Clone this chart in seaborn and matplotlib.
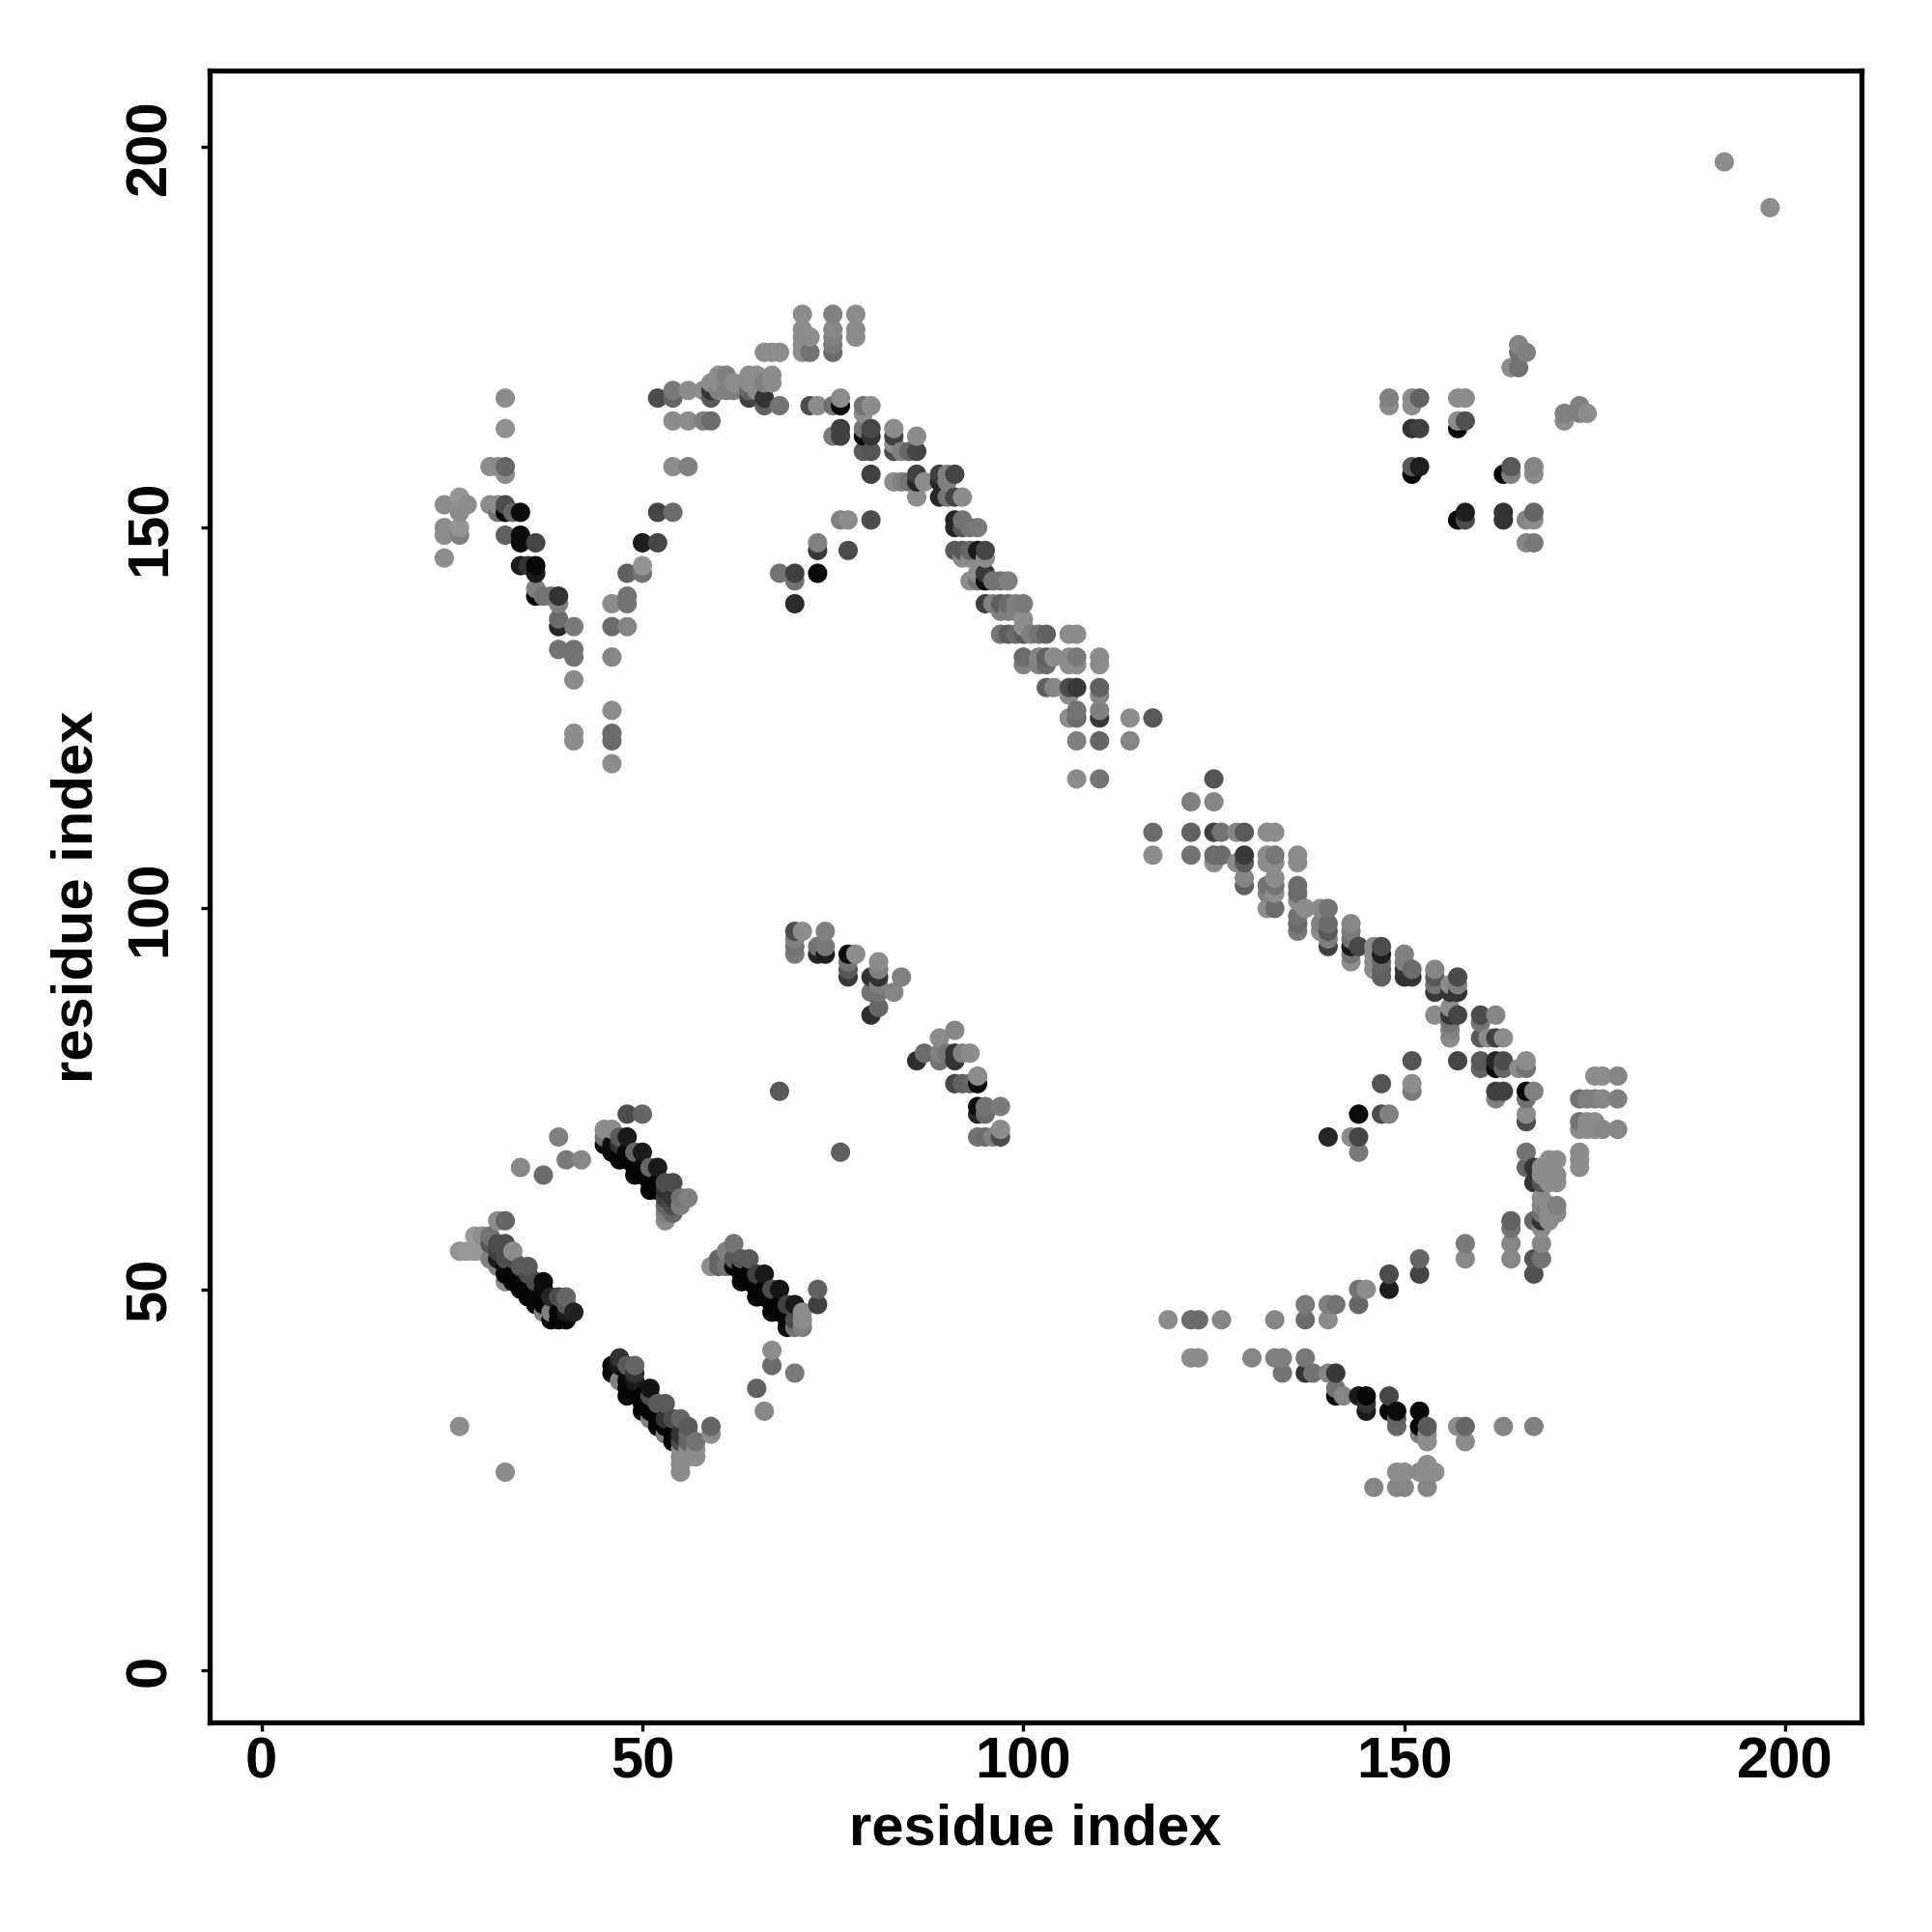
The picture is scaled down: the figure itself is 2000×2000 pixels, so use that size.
import pandas as pd
import matplotlib
matplotlib.use("Agg")
import matplotlib.pyplot as plt
import seaborn as sns

# contacts as (residue i, residue j, shade), shade 0 = black
band_a = [(26,55,.58),(27,55,.6),(28,55,.6),(29,55,.6),(28,57,.6),(29,57,.55),(30,57,.45),(31,59,.55),(32,59,.4),
          (30,56,.35),(31,56,.3),(32,56,.3),(33,55,.55),(31,55,.25),(30,54,.5),(31,54,.1),(32,54,.3),(33,54,.3),
          (31,53,.5),(32,53,.05),(34,53,.35),(35,53,.35),(32,52,.02),(33,52,.02),(35,52,.3),(32,51,.55),(33,51,.02),
          (34,51,.02),(36,51,.3),(37,51,.05),(34,50,.02),(35,50,.02),(37,50,.05),(35,49,.02),(36,49,.02),(38,49,.15),
          (39,49,.3),(40,49,.4),(36,48,.03),(37,48,.02),(40,48,.35),(37,47,.5),(38,47,.5),(39,47,.02),(40,47,.1),
          (41,47,.13),(38,46,.02),(39,46,.02),(40,46,.02)]
band_b = [(45,71,.55),(46,71,.55),(45,70,.45),(45,69,.05),(46,69,.05),(47,70,.35),(48,70,.1),(47,69,.2),(46,68,.05),
          (47,68,.02),(48,68,.02),(47,67,.02),(48,67,.02),(49,68,.4),(50,68,.1),(49,66,.02),(49,65,.02),(50,66,.02),
          (50,65,.02),(51,66,.4),(52,66,.1),(51,64,.02),(51,63,.02),(52,64,.02),(52,63,.02),(53,64,.3),(54,64,.3),
          (53,63,.2),(53,62,.25),(53,61,.4),(53,60,.5),(53,59,.55),(54,62,.2),(54,61,.3),(54,60,.4),(55,62,.45),
          (55,61,.5),(56,62,.5)]
band_c = [(59,53,.55),(60,54,.4),(60,53,.4),(61,55,.5),(61,53,.45),(62,56,.45),(62,54,.35),(62,53,.02),(63,54,.35),
          (63,53,.02),(63,52,.02),(64,54,.35),(63,51,.02),(64,52,.02),(64,51,.02),(65,52,.25),(65,50,.02),(65,49,.02),
          (66,52,.1),(66,50,.02),(66,49,.02),(67,50,.3),(67,48,.02),(67,47,.02),(68,50,.08),(68,48,.02),(68,47,.02),
          (69,48,.25),(69,45,.05),(69,46,.02),(70,48,.1),(70,46,.3),(70,45,.45),(71,46,.55),(71,45,.5),(71,47,.55)]
band_d = [(46,40,.05),(46,39,.05),(47,41,.2),(47,40,.1),(47,38,.5),(48,40,.35),(48,39,.05),(48,38,.03),(48,37,.02),
          (48,36,.03),(49,40,.4),(49,39,.2),(49,38,.1),(49,37,.02),(50,36,.02),(50,35,.02),(50,34,.02),(51,37,.08),
          (51,36,.3),(51,34,.02),(51,33,.5),(52,35,.35),(52,33,.02),(52,32,.02),(53,35,.35),(53,33,.2),(53,32,.02),
          (53,31,.5),(54,33,.3),(54,31,.02),(54,30,.02),(55,33,.4),(55,31,.2),(55,30,.3),(55,29,.55),(55,28,.55),
          (55,27,.55),(55,26,.55),(56,32,.35),(56,31,.4),(56,30,.4),(56,29,.55),(56,28,.55),(57,30,.45),(57,29,.55),
          (57,28,.55),(59,32,.4),(59,31,.55)]
stray_low = [(26,32,.55),(32,26,.55),(34,66,.53),(37,65,.42),(39,70,.5),(40,67,.48),(42,67,.53),(48,73,.3),(50,73,.4),
             (76,68,.37),(68,76,.35),(73,50,.38),(73,48,.25),(67,42,.55),(67,40,.42),(70,39,.48),(65,37,.38),(66,34,.53)]
arm_left = [(32,167,.55),(32,163,.57),(30,158,.55),(31,158,.55),(32,158,.4),(32,157,.55),(24,153,.55),(26,154,.58),
            (27,153,.55),(26,152,.55),(24,150,.55),(24,149,.55),(26,150,.58),(26,149,.5),(24,146,.55),(30,153,.55),
            (31,153,.55),(32,153,.3),(31,152,.45),(32,152,.02),(33,152,.4),(34,152,.05),(32,149,.38),(34,149,.05),
            (34,148,.05),(36,148,.27),(34,145,.1),(35,145,.2),(36,145,.03),(36,144,.1),(36,142,.5),(36,141,.02),
            (37,141,.45),(38,141,.45),(39,141,.2),(39,140,.5),(39,138,.42),(39,137,.15),(41,137,.48),(39,134,.45),
            (41,134,.45),(41,133,.45),(41,130,.55),(41,123,.55),(41,122,.55)]
arm_rise = [(46,126,.55),(46,123,.42),(46,122,.42),(46,119,.55),(46,137,.42),(48,137,.52),(46,133,.52),(46,140,.55),
            (48,141,.45),(48,140,.45),(48,144,.38),(50,145,.58),(50,144,.45),(50,148,.12),(52,148,.28),(52,152,.27),
            (54,152,.42),(54,158,.55),(56,158,.5),(54,164,.55),(56,164,.55),(58,164,.5),(59,164,.42),(52,167,.3),
            (54,168,.48),(54,167,.4),(56,168,.55),(58,168,.55),(59,167,.35),(59,168,.2),(59,169,.55),(60,169,.55),
            (60,170,.55),(61,170,.5),(62,169,.55),(64,170,.55),(65,170,.55),(64,169,.55),(64,167,.25),(64,168,.4),
            (65,168,.55),(66,169,.5),(67,170,.55),(67,169,.55),(66,167,.2),(66,166,.38),(68,166,.45),(60,168,.5),
            (61,168,.5),(62,168,.5),(66,173,.55),(67,173,.55),(68,173,.55)]
crest = [(71,178,.55),(75,178,.5),(78,178,.55),(71,176,.55),(72,175,.55),(71,175,.55),(71,174,.55),(71,173,.55),
         (72,173,.45),(75,176,.53),(75,175,.5),(75,174,.48),(75,173,.42),(78,176,.55),(78,175,.55)]
diag_upper = [(72,166,.3),(73,166,.55),(75,166,.45),(76,167,.55),(76,166,.05),(79,166,.45),(80,166,.55),(79,165,.55),
              (76,163,.25),(76,162,.25),(75,162,.48),(79,163,.45),(80,163,.28),(79,162,.05),(80,162,.2),(79,160,.35),
              (80,160,.33),(80,157,.25),(83,163,.55),(83,162,.25),(83,160,.3),(83,161,.55),(84,160,.5),(85,160,.4),
              (86,160,.27),(86,162,.55),(83,156,.55),(84,156,.5),(85,156,.45),(86,157,.25),(86,156,.15),(87,156,.55),
              (86,154,.55),(89,157,.25),(89,156,.15),(90,157,.5),(91,157,.27),(90,156,.5),(89,154,.15),(90,154,.45),
              (91,154,.27),(92,154,.55),(91,151,.15),(92,151,.45),(91,150,.15),(92,150,.35),(93,150,.45),(94,150,.48),
              (91,147,.35),(92,147,.35),(93,147,.4),(94,147,.1),(95,147,.27),(92,146,.55),(93,146,.55),(95,146,.55),
              (95,144,.22),(94,144,.55),(93,143,.55),(94,143,.45),(95,143,.05),(96,143,.45),(97,143,.45),(98,143,.5),
              (95,140,.25),(96,140,.5),(97,140,.37),(98,140,.42),(99,140,.5),(100,140,.48),(97,139,.5),(98,139,.5),
              (99,139,.5),(100,138,.55),(100,137,.55),(97,136,.45),(98,136,.37),(99,136,.42),(100,136,.35),(101,136,.5),
              (102,136,.45),(103,136,.38),(106,136,.55),(107,136,.55),(100,133,.42),(100,132,.5),(102,133,.52),
              (103,133,.38),(104,133,.55),(102,132,.5),(103,132,.42),(106,133,.55),(107,133,.48),(106,132,.55),
              (107,132,.55),(110,133,.55),(110,132,.55),(103,129,.38),(104,129,.52),(106,129,.3),(107,129,.22),
              (106,128,.55),(110,129,.38),(110,128,.52),(107,126,.45),(107,125,.42),(106,125,.55),(110,126,.5),
              (110,125,.22),(114,125,.55),(117,125,.35),(107,122,.5),(110,122,.4),(114,122,.52),(107,117,.55),(110,117,.45)]
side_upper = [(68,144,.45),(70,144,.25),(70,143,.45),(73,144,.05),(73,148,.5),(73,147,.22),(77,147,.3),(76,151,.5),
              (77,151,.55),(80,151,.3),(70,140,.17)]
diag_lower = [(125,117,.33),(122,114,.5),(125,114,.52),(117,110,.42),(122,110,.38),(125,110,.25),(126,110,.45),
              (128,110,.52),(129,110,.35),(132,110,.55),(133,110,.55),(117,107,.55),(122,107,.45),(125,107,.42),
              (126,107,.42),(129,107,.22),(132,107,.55),(133,107,.47),(136,107,.55),(125,106,.55),(128,106,.55),
              (129,106,.35),(132,106,.55),(133,106,.55),(136,106,.55),(129,104,.52),(129,103,.38),(133,104,.55),
              (132,103,.45),(133,103,.45),(132,102,.52),(133,102,.55),(132,100,.55),(133,100,.42),(136,103,.42),
              (136,102,.42),(136,101,.55),(137,100,.55),(136,99,.45),(136,98,.42),(136,97,.48),(139,100,.55),
              (140,100,.45),(139,98,.5),(140,98,.42),(139,97,.55),(140,97,.35),(140,96,.5),(140,95,.25),(143,98,.52),
              (143,97,.48),(143,96,.45),(143,95,.1),(143,94,.45),(143,93,.55),(144,95,.28),(146,95,.55),(146,94,.55),
              (146,93,.55),(146,92,.55),(147,95,.3),(147,94,.12),(147,93,.4),(147,92,.38),(147,91,.38),(150,94,.5),
              (150,93,.5),(150,92,.2),(150,91,.2),(151,92,.42),(151,91,.2),(154,92,.52),(154,91,.35),(154,90,.45),
              (154,89,.22),(156,90,.55),(157,91,.3),(157,90,.5),(156,89,.2),(157,89,.2),(154,86,.55),(156,87,.55),
              (156,86,.2),(157,86,.27),(156,85,.45),(156,84,.5),(156,83,.55),(160,86,.3),(162,86,.52),(160,85,.45),
              (160,83,.35),(161,83,.55),(162,83,.25),(163,83,.55),(157,80,.27),(151,80,.33),(160,80,.35),(160,79,.38),
              (162,80,.15),(162,79,.03),(163,80,.3),(163,79,.4),(165,79,.55),(166,80,.55),(166,79,.45),(147,77,.33),
              (151,77,.55),(151,76,.48),(162,76,.25),(163,76,.25),(162,75,.5),(166,76,.03),(167,76,.5),(166,75,.45),
              (144,73,.05),(147,73,.3),(148,73,.5),(140,70,.15),(143,70,.55),(144,70,.27),(144,68,.48),(166,73,.55),
              (166,72,.3),(166,68,.45),(166,66,.4)]
corner = [(175,78,.55),(176,78,.55),(178,78,.52),(173,75,.45),(174,75,.5),(175,75,.5),(176,75,.53),(178,75,.5),
          (173,72,.45),(174,72,.55),(175,72,.55),(173,71,.55),(174,71,.55),(175,71,.55),(176,71,.53),(178,71,.53),
          (173,68,.55),(173,67,.55),(173,66,.55),(167,66,.2),(169,67,.55),(170,67,.55),(168,66,.55),(169,66,.55),
          (168,65,.55),(169,65,.55),(170,65,.55),(170,64,.55),(169,64,.55),(167,64,.2),(168,64,.35),(168,62,.55),
          (168,61,.5),(169,61,.55),(170,61,.5),(170,60,.55),(169,60,.55),(168,60,.45),(167,59,.4),(168,59,.2),
          (169,59,.55),(168,58,.55),(164,59,.38),(164,58,.45),(164,56,.52),(164,54,.52),(168,56,.52),(168,54,.45),
          (167,54,.33),(167,52,.32)]
arm_bottom = [(158,56,.48),(158,54,.53),(152,54,.4),(152,52,.27),(148,52,.3),(148,50,.12),(144,50,.45),(145,50,.55),
              (144,48,.4),(137,48,.48),(140,48,.5),(141,48,.45),(137,46,.42),(140,46,.55),(133,46,.52),(126,46,.52),
              (122,46,.42),(123,46,.42),(119,46,.55),(122,41,.55),(123,41,.55),(130,41,.52),(133,41,.5),(134,41,.5),
              (137,41,.47),(134,39,.45),(137,39,.2),(138,39,.45),(140,39,.52),(141,39,.22),(141,37,.45),(141,36,.03),
              (142,36,.52),(144,36,.1),(145,36,.03),(145,35,.2),(145,34,.1),(148,36,.28),(148,34,.03),(149,34,.05),
              (149,33,.38),(149,32,.4),(152,34,.03),(152,32,.02),(153,32,.35),(152,31,.5),(153,31,.55),(153,30,.55),
              (157,32,.55),(158,32,.4),(158,30,.55),(163,32,.52),(167,32,.5),(149,26,.55),(150,26,.55),(152,26,.55),
              (153,27,.55),(153,26,.55),(154,26,.55),(146,24,.52),(149,24,.52),(150,24,.52),(153,24,.52)]
helix_mid = [(70,97,.3),(71,97,.55),(74,97,.5),(70,96,.5),(70,95,.45),(70,94,.48),(73,95,.45),(74,95,.47),(73,94,.15),
             (74,94,.12),(77,94,.05),(78,94,.55),(77,93,.45),(77,92,.35),(77,91,.22),(81,93,.55),(81,92,.5),(80,91,.2),
             (81,91,.2),(84,91,.5),(81,90,.5),(80,89,.45),(81,89,.45),(83,89,.52),(81,87,.4),(80,86,.18),(91,84,.52),
             (89,83,.55),(87,81,.42),(86,80,.18),(89,81,.5),(90,81,.45),(91,81,.2),(91,80,.2),(89,80,.45),(92,81,.5),
             (93,81,.55),(91,77,.28),(92,77,.38),(93,77,.4),(94,78,.55),(94,77,.05),(94,74,.05),(95,74,.45),(97,74,.48),
             (94,73,.15),(95,73,.42),(94,70,.45),(95,70,.42),(96,70,.5),(97,71,.55),(97,70,.3)]
patch_top = [(165,174,.52),(166,173,.5),(165,173,.45),(165,171,.45),(164,171,.55),(148,167,.5),(148,166,.55),
             (151,167,.55),(151,166,.55),(152,167,.38),(157,167,.55),(158,167,.55),(151,163,.2),(152,163,.25),
             (157,164,.55),(158,164,.32),(157,163,.02),(151,158,.35),(152,158,.12),(151,157,.02),(163,157,.02),
             (164,158,.35),(164,157,.5),(167,158,.52),(167,157,.55),(171,165,.5),(171,164,.55),(173,166,.5),
             (173,165,.5),(174,165,.55),(158,152,.12),(158,151,.3),(157,151,.02),(163,152,.2),(163,151,.2),
             (167,152,.4),(166,151,.52),(167,151,.55),(166,148,.52),(167,148,.48)]
far = [(192,198,.55),(198,192,.55)]

groups = [band_a, band_b, band_c, band_d, stray_low, arm_left, arm_rise, crest, diag_upper, side_upper,
          diag_lower, corner, arm_bottom, helix_mid, patch_top, far]
ticks = [0, 50, 100, 150, 200]

rows = [p for g in groups for p in g]
df = pd.DataFrame(rows, columns=["i", "j", "shade"]).sort_values(["i", "j"])

sns.set_style("white")
plt.rcParams["font.family"] = ["Liberation Sans", "DejaVu Sans"]
plt.rcParams["font.weight"] = "bold"
plt.rcParams["text.color"] = "black"
plt.rcParams["axes.labelcolor"] = "black"
plt.rcParams["xtick.color"] = "black"
plt.rcParams["ytick.color"] = "black"

fig = plt.figure(figsize=(10, 10), dpi=200)
ax = fig.add_axes([0.1085, 0.1085, 0.855, 0.855])
sns.scatterplot(data=df, x="i", y="j", hue="shade", palette="gray", hue_norm=(0, 1),
                s=52, linewidth=0, legend=False, ax=ax)
ax.set_xlim(-6.8, 210)
ax.set_ylim(-6.85, 210)
ax.set_xticks(ticks)
ax.set_yticks(ticks)
ax.tick_params(length=3.1, width=1.2, labelsize=21.5, bottom=True, left=True)
ax.tick_params(axis="x", pad=2.2)
ax.tick_params(axis="y", pad=9)
plt.setp(ax.get_yticklabels(), rotation=90, va="center")
ax.set_xlabel("residue index", fontsize=21.5, fontweight="bold", labelpad=5)
ax.set_ylabel("residue index", fontsize=21.5, fontweight="bold", labelpad=7.5)
for s in ax.spines.values():
    s.set_linewidth(1.9)
    s.set_color("black")
fig.savefig("out.png", dpi=200)
